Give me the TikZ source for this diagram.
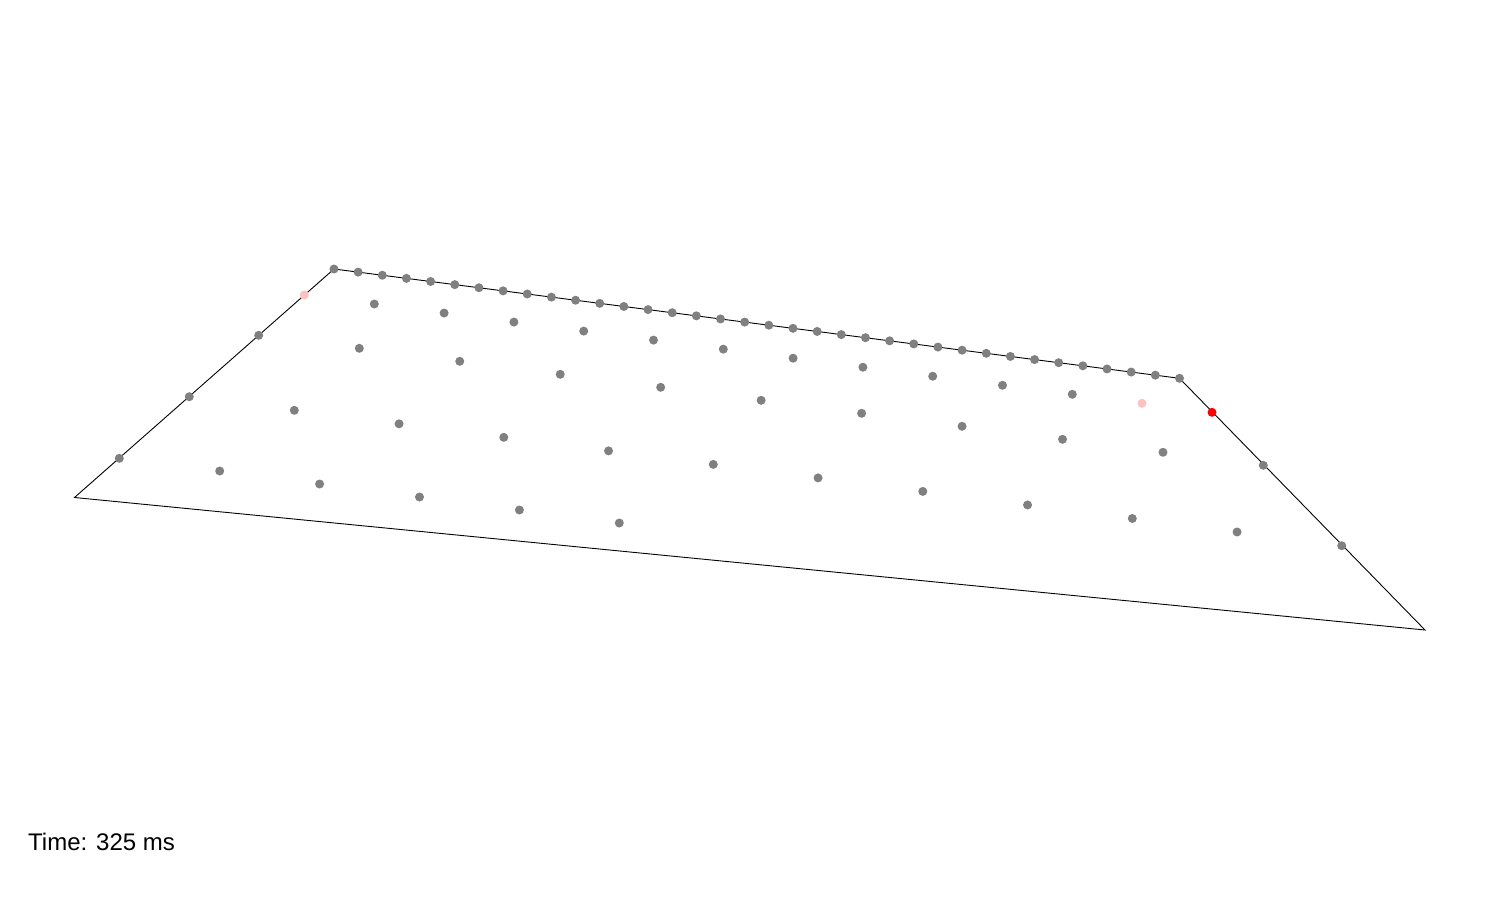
\documentclass[tikz,border=0pt]{standalone}
\usepackage{fontspec}
\setmainfont{Liberation Sans}
\usetikzlibrary{calc}
\begin{document}
\begin{tikzpicture}[x=1pt,y=-1pt,
  dotg/.style={circle,fill=black!50,inner sep=0pt,minimum size=9pt,draw=none},
  dotp/.style={circle,fill={rgb,255:red,255;green,192;blue,192},inner sep=0pt,minimum size=9pt,draw=none},
  dotr/.style={circle,fill=red,inner sep=0pt,minimum size=9pt,draw=none},
  edge/.style={draw=black,line width=0.9pt}]
\useasboundingbox (0,0) rectangle (1500,900);
\coordinate (A) at (74.5,497.5);
\coordinate (B) at (334,269);
\coordinate (C) at (1179.5,378.3);
\coordinate (D) at (1425,630);
\draw[edge] (A) -- (B) -- (C) -- (D) -- cycle;
% top edge dots
\foreach \i in {0,...,35} {
  \node[dotg] (t\i) at ($(B)!\i/35!(C)$) {};
}
% left edge dots
\node[dotg] (l1) at (119.3,458.3) {};
\node[dotg] (l2) at (189.3,396.7) {};
\node[dotg] (l3) at (258.7,335.3) {};
\node[dotp] (l4) at (304.3,295) {};
% right edge dots
\node[dotr] (r1) at (1212,412.3) {};
\node[dotg] (r2) at (1263.3,465.3) {};
\node[dotg] (r3) at (1341.7,545.7) {};
% interior rows
\foreach \i in {0,...,10} {
  \node[dotg] (a\i) at (374.3+\i*69.8, 304+\i*9.03) {};
}
\node[dotp] (a11) at (1142,403.3) {};
\foreach \i in {0,...,8} {
  \node[dotg] (b\i) at (359.3+\i*100.46, 348.3+\i*13.0) {};
}
\foreach \i in {0,...,9} {
  \node[dotg] (c\i) at (294.3+\i*104.75, 410.3+\i*13.52) {};
}
\foreach \i in {0,...,4} {
  \node[dotg] (d\i) at (219.7+\i*99.9, 471+\i*13.0) {};
}
\node[anchor=base west,inner sep=0pt,font=\fontsize{24}{28}\selectfont] (time) at (28,850) {Time: 325 ms};
\end{tikzpicture}
\end{document}
